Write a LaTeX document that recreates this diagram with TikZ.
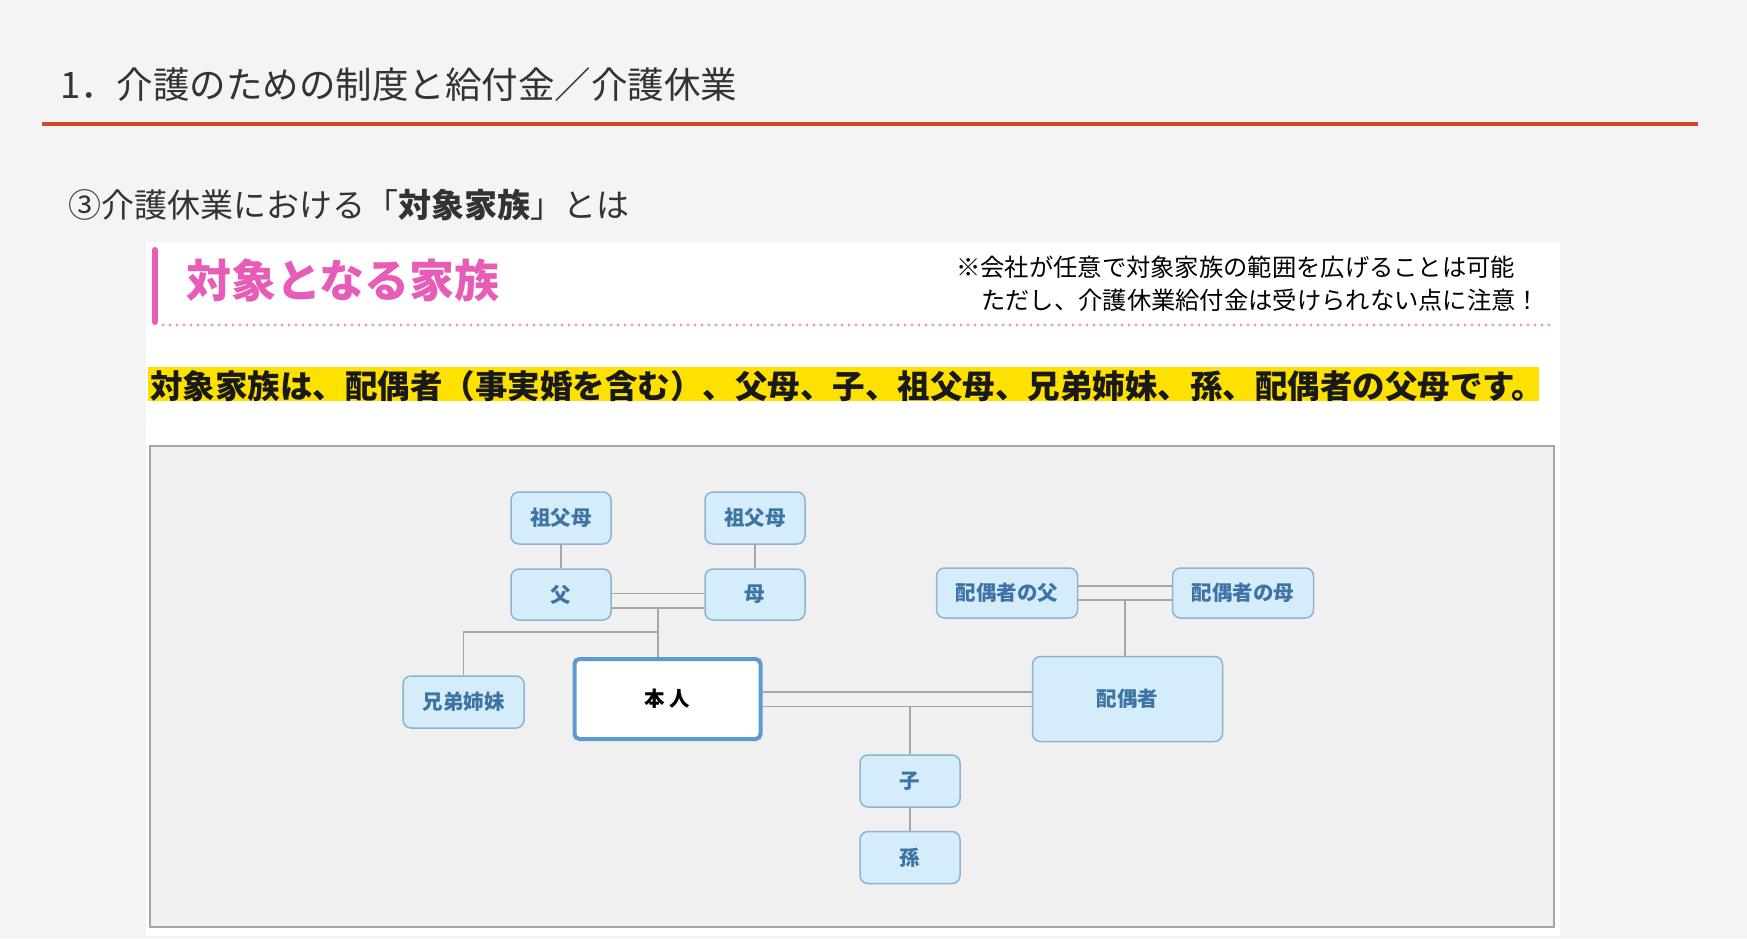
\documentclass[tikz,border=0pt]{standalone}
\usepackage{fontspec}
\setmainfont{Noto Sans CJK JP}
\usetikzlibrary{calc}
\definecolor{bgc}{HTML}{F4F4F4}
\definecolor{redline}{HTML}{D5472A}
\definecolor{txt}{HTML}{333333}
\definecolor{pinkc}{HTML}{E65CB7}
\definecolor{pinkdot}{HTML}{EE98BE}
\definecolor{yel}{HTML}{FFE100}
\definecolor{diabg}{HTML}{F0F0F0}
\definecolor{diabd}{HTML}{A6A6A6}
\definecolor{nfill}{HTML}{D5EDFB}
\definecolor{nbord}{HTML}{8DB3D3}
\definecolor{ntext}{HTML}{3D74A3}
\definecolor{selfbd}{HTML}{5E9ACF}
\definecolor{conn}{HTML}{A6A6A6}
\tikzset{
  fam/.style={draw=nbord, fill=nfill, line width=1.5pt, rounded corners=8pt,
    text=ntext, font=\fontsize{20.5}{24}\selectfont\bfseries,
    minimum width=100pt, minimum height=52pt, inner sep=0pt},
  selfbox/.style={draw=selfbd, fill=white, line width=4pt, rounded corners=5pt,
    text=black, font=\fontsize{20.5}{24}\selectfont\bfseries,
    minimum width=186pt, minimum height=80pt, inner sep=0pt},
  link/.style={draw=conn, line width=1.6pt},
  plain/.style={inner sep=0pt, anchor=west}
}
\begin{document}
\begin{tikzpicture}[x=1pt,y=-1pt]
\useasboundingbox (0,0) rectangle (1747,938);
\fill[bgc] (0,0) rectangle (1747,938);
% header
\node[plain, text=txt, font=\fontsize{36.5}{40}\selectfont] (title) at (60,85) {1．介護のための制度と給付金／介護休業};
\draw[redline, line width=4.5pt] (42,124) -- (1698,124);
\node[plain, text=txt, font=\fontsize{33}{38}\selectfont] (sub) at (68,205) {③介護休業における「{\bfseries 対象家族}」とは};
% white panel
\fill[white] (146,242) rectangle (1560,936);
\draw[pinkc, line width=6pt, line cap=round] (155,250) -- (155,322);
\node[plain, text=pinkc, font=\fontsize{45}{50}\selectfont\bfseries] (ptitle) at (186,280) {対象となる家族};
\draw[pinkdot, line width=3.4pt, line cap=round, dash pattern=on 0pt off 7pt] (163,325) -- (1552,325);
\node[plain, text=black, font=\fontsize{24.3}{28}\selectfont] (note1) at (956,267) {※会社が任意で対象家族の範囲を広げることは可能};
\node[plain, text=black, font=\fontsize{24.3}{28}\selectfont] (note2) at (981,300) {ただし、介護休業給付金は受けられない点に注意！};
\fill[yel] (148,367) rectangle (1539,401);
\node[plain, text=black!90, font=\fontsize{32.5}{36}\selectfont\bfseries] (hl) at (150,386) {対象家族は、配偶者（事実婚を含む）、父母、子、祖父母、兄弟姉妹、孫、配偶者の父母です。};
% diagram box
\draw[diabd, fill=diabg, line width=2pt] (150,446) rectangle (1554,927);
% nodes
\node[fam] (gpl) at (561,518) {祖父母};
\node[fam] (gpr) at (755,518) {祖父母};
\node[fam, minimum height=51pt] (fa) at (561,594.5) {父};
\node[fam, minimum height=51pt] (mo) at (755,594.5) {母};
\node[fam, minimum width=141pt, minimum height=50pt] (sfa) at (1007,593) {配偶者の父};
\node[fam, minimum width=141pt, minimum height=50pt] (smo) at (1243,593) {配偶者の母};
\node[fam, minimum width=121pt] (sib) at (463.5,702) {兄弟姉妹};
\node[selfbox] (hon) at (667.5,699) {本\ 人};
\node[fam, minimum width=190pt, minimum height=85pt] (sp) at (1127.5,699) {配偶者};
\node[fam] (ko) at (910,781) {子};
\node[fam] (mago) at (910,857.5) {孫};
% connectors
\draw[link] (gpl) -- (fa);
\draw[link] (gpr) -- (mo);
\draw[link] ([yshift=1pt]fa.east) -- ([yshift=1pt]mo.west);
\draw[link] ([yshift=-13.5pt]fa.east) coordinate (fl) -- ([yshift=-13.5pt]mo.west) coordinate (ml);
\coordinate (pm) at ($(fl)!0.5!(ml)$);
\draw[link] (pm) -- (pm |- hon.north);
\coordinate (sj) at ($(pm)+(0,24)$);
\draw[link] (sj) -| (sib.north);
\draw[link] ([yshift=7pt]sfa.east) -- ([yshift=7pt]smo.west);
\draw[link] ([yshift=-7pt]sfa.east) coordinate (sfl) -- ([yshift=-7pt]smo.west) coordinate (sml);
\coordinate (spm) at ($(sfl)!0.5!(sml)$);
\draw[link] (spm) -- (spm |- sp.north);
\draw[link] ([yshift=7pt]hon.east) -- ([yshift=7pt]sp.west);
\draw[link] ([yshift=-7.5pt]hon.east) coordinate (hl2) -- ([yshift=-7.5pt]sp.west);
\draw[link] (ko.north) -- (ko.north |- hl2);
\draw[link] (ko) -- (mago);
\end{tikzpicture}
\end{document}
